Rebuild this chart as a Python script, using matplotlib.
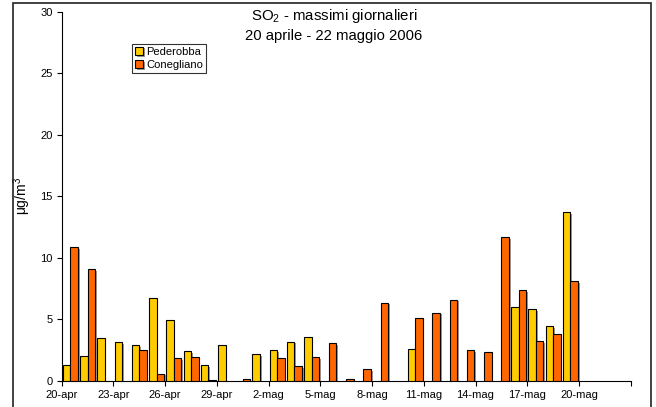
import numpy as np
import pandas as pd
import matplotlib.pyplot as plt
import matplotlib.patches as mpatches
import matplotlib.patheffects as pe

plt.rcParams['font.family'] = ['Liberation Sans', 'DejaVu Sans']
plt.rcParams['mathtext.fontset'] = 'custom'
plt.rcParams['mathtext.rm'] = 'Liberation Sans'
plt.rcParams['mathtext.it'] = 'Liberation Sans:italic'

# 20 aprile - 22 maggio 2006, one category per day
giorni = pd.date_range('2006-04-20', '2006-05-22', freq='D')

# SO2 daily maxima (ug/m3), None = no data
pederobba = [1.3, 2.0, 3.5, 3.15, 2.87, 6.7, 4.9, 2.42, 1.25, 2.87,
             None, 2.15, 2.5, 3.17, 3.52, None, None, None, None, None,
             2.6, None, None, None, None, None, 6.0, 5.82, 4.44, 13.7,
             None, None, None]
conegliano = [10.85, 9.05, None, None, 2.52, 0.57, 1.82, 1.9, 0.05, None,
              0.1, None, 1.84, 1.16, 1.92, 3.06, 0.16, 0.92, 6.34, None,
              5.12, 5.53, 6.59, 2.5, 2.36, 11.65, 7.37, 3.2, 3.8, 8.1,
              None, None, None]

tick_labels = ['20-apr', '23-apr', '26-apr', '29-apr', '2-mag', '5-mag',
               '8-mag', '11-mag', '14-mag', '17-mag', '20-mag']

col_ped = '#FFCC00'
col_con = '#FF6600'

fig = plt.figure(figsize=(6.56, 4.07), dpi=100)
ax = fig.add_axes([0.0941, 0.0646, 0.8673, 0.9067])

x = np.arange(len(giorni))
ped = np.array(pederobba, dtype=float)
con = np.array(conegliano, dtype=float)
w = 0.435
shadow = [pe.SimplePatchShadow(offset=(1.2, -1.2), shadow_rgbFace='#808080', alpha=0.8), pe.Normal()]

m = ~np.isnan(ped)
b1 = ax.bar(x[m] + 0.5 - w / 2, ped[m], width=w, color=col_ped, edgecolor='black',
            linewidth=0.8, label='Pederobba', zorder=3)
m = ~np.isnan(con)
b2 = ax.bar(x[m] + 0.5 + w / 2, con[m], width=w, color=col_con, edgecolor='black',
            linewidth=0.8, label='Conegliano', zorder=3)
for b in list(b1) + list(b2):
    b.set_path_effects(shadow)

ax.set_xlim(0, len(giorni))
ax.set_ylim(0, 30)
ax.set_yticks(np.arange(0, 31, 5))
ax.set_xticks(np.arange(0, len(giorni) + 1, 3))
ax.set_xticklabels(tick_labels + [''])
ax.tick_params(axis='both', labelsize=8, length=3.5, width=0.8, direction='out')
ax.tick_params(axis='x', pad=3.5)
ax.tick_params(axis='y', pad=3)
for s in ['top', 'right']:
    ax.spines[s].set_visible(False)
for s in ['left', 'bottom']:
    ax.spines[s].set_linewidth(0.8)
ax.patch.set_alpha(0)

ax.set_ylabel('μg/m$^3$', fontsize=10)
ax.yaxis.set_label_coords(-0.050, 0.5)

fig.text(0.509, 0.960, 'SO$_2$ - massimi giornalieri', ha='center', va='center', fontsize=10.8)
fig.text(0.508, 0.911, '20 aprile - 22 maggio 2006', ha='center', va='center', fontsize=10.7)

leg = fig.legend(loc='upper left', bbox_to_anchor=(0.2017, 0.892), fontsize=8,
                 frameon=True, fancybox=False, handlelength=0.75, handleheight=0.75,
                 handletextpad=0.25, borderpad=0.25, labelspacing=0.3, borderaxespad=0)
leg.get_frame().set_edgecolor('black')
leg.get_frame().set_linewidth(0.8)

# chart area border (bottom edge lies outside the picture)
fig.patches.append(mpatches.Rectangle((12.7 / 656, -0.05), 638 / 656, 1.05 - 2.7 / 407,
                                      transform=fig.transFigure, fill=False,
                                      edgecolor='#222222', linewidth=1.2))

fig.savefig('out.png', dpi=100)
